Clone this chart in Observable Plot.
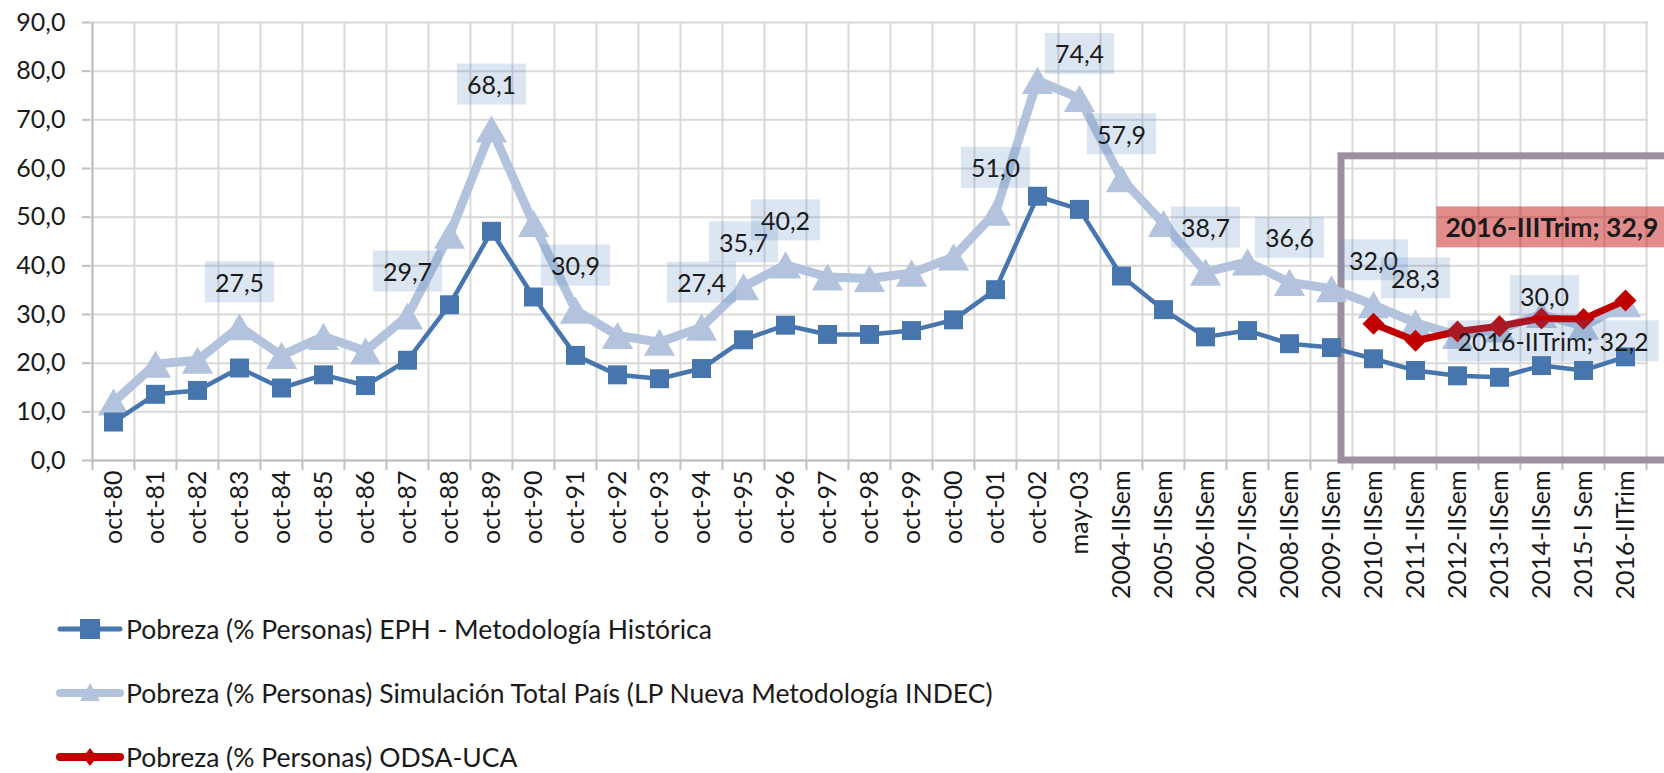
<!DOCTYPE html>
<html>
<head>
<meta charset="utf-8">
<script src="https://cdn.jsdelivr.net/npm/d3@7"></script>
<script src="https://cdn.jsdelivr.net/npm/@observablehq/plot@0.6"></script>
<style>
  body { margin: 0; background: #fff; font-family: Lato, "Open Sans", sans-serif; overflow: hidden; }
  #chart { height: 597px; }
  #legend { margin-left: 56px; }
  .row { display: flex; align-items: center; height: 64px; font-size: 26.5px; color: #1a1a1a; white-space: nowrap; }
  .row svg { margin-right: 2px; flex: none; }
</style>
</head>
<body>
<div id="chart"></div>
<div id="legend"></div>
<script>
// ---------- data ----------
const categories = ["oct-80","oct-81","oct-82","oct-83","oct-84","oct-85","oct-86","oct-87","oct-88","oct-89",
  "oct-90","oct-91","oct-92","oct-93","oct-94","oct-95","oct-96","oct-97","oct-98","oct-99",
  "oct-00","oct-01","oct-02","may-03","2004-IISem","2005-IISem","2006-IISem","2007-IISem","2008-IISem","2009-IISem",
  "2010-IISem","2011-IISem","2012-IISem","2013-IISem","2014-IISem","2015-I Sem","2016-IITrim"];

const ephValues = [7.9, 13.6, 14.4, 19.0, 14.9, 17.6, 15.4, 20.6, 32.0, 47.1,
  33.6, 21.6, 17.6, 16.8, 18.9, 24.8, 27.8, 25.9, 25.9, 26.7,
  28.9, 35.1, 54.3, 51.6, 37.9, 31.0, 25.4, 26.7, 24.0, 23.2,
  20.9, 18.5, 17.4, 17.1, 19.5, 18.5, 21.3];

const simValues = [12.0, 19.8, 20.6, 27.5, 21.6, 25.5, 22.5, 29.7, 46.3, 68.1,
  48.7, 30.9, 25.7, 24.3, 27.4, 35.7, 40.2, 37.7, 37.4, 38.5,
  41.8, 51.0, 78.1, 74.4, 57.9, 48.7, 38.7, 40.8, 36.6, 35.3,
  32.0, 28.3, 25.7, 27.0, 30.0, 27.6, 32.2];

const odsaCategories = ["2010-IISem","2011-IISem","2012-IISem","2013-IISem","2014-IISem","2015-I Sem","2016-IITrim"];
const odsaValues = [28.1, 24.6, 26.5, 27.6, 29.2, 29.1, 32.9];
const odsaLastPeriod = "2016-IIITrim";

// which simulated points carry a data label
const simLabeled = ["oct-83","oct-87","oct-89","oct-91","oct-94","oct-95","oct-96","oct-01","may-03",
  "2004-IISem","2006-IISem","2008-IISem","2010-IISem","2011-IISem"];
const simLabeledLow = ["2014-IISem"];
const simLabeledNamed = ["2016-IITrim"];

const yTicks = [0, 10, 20, 30, 40, 50, 60, 70, 80, 90];

const seriesNames = [
  "Pobreza (% Personas) EPH - Metodología Histórica",
  "Pobreza (% Personas) Simulación Total País (LP Nueva Metodología INDEC)",
  "Pobreza (% Personas) ODSA-UCA"
];

const highlight = [{from: "2010-IISem", to: "2016-IITrim", bottom: 0, top: 62.5}];

// ---------- styles ----------
const C_EPH = "#4775ae", C_SIM = "#b3c3de", C_ODSA = "#c00000";
const GRID = "#d9d9d9", AXIS = "#bfbfbf", TEXT = "#1a1a1a";

const fmt = v => d3.format(".1f")(v).replace(".", ",");

const eph = categories.map((c, i) => ({cat: c, value: ephValues[i]}));
const sim = categories.map((c, i) => ({cat: c, value: simValues[i], label: fmt(simValues[i])}));
const odsa = odsaCategories.map((c, i) => ({cat: c, value: odsaValues[i]}));
const simLab = sim.filter(d => simLabeled.includes(d.cat));
const simLabLow = sim.filter(d => simLabeledLow.includes(d.cat));
const simLabNamed = sim.filter(d => simLabeledNamed.includes(d.cat)).map(d => ({...d, label: d.cat + "; " + fmt(d.value)}));
const odsaLab = odsa.slice(-1).map(d => ({...d, label: odsaLastPeriod + "; " + fmt(d.value)}));

const W = 1664, ML = 90, MR = 16;
const step = (W - ML - MR) / categories.length;
const last = categories[categories.length - 1];

const chart = Plot.plot({
  width: W, height: 597,
  marginLeft: ML, marginRight: MR, marginTop: 22, marginBottom: 137,
  style: {fontFamily: "Lato, 'Open Sans', sans-serif", fontSize: "25px", color: TEXT, background: "white", overflow: "visible"},
  x: {type: "point", domain: categories, padding: 0.5, label: null},
  y: {domain: [0, 90], label: null},
  marks: [
    Plot.gridY(yTicks, {stroke: GRID, strokeOpacity: 1, strokeWidth: 2}),
    Plot.ruleX(categories, {dx: -step / 2, stroke: GRID, strokeWidth: 2}),
    Plot.ruleX([last], {dx: step / 2, stroke: GRID, strokeWidth: 2}),
    Plot.ruleY([0], {stroke: AXIS, strokeWidth: 2}),
    Plot.ruleX([categories[0]], {dx: -step / 2, stroke: AXIS, strokeWidth: 2}),
    Plot.axisY(yTicks, {tickSize: 8, tickPadding: 17, tickFormat: fmt, stroke: AXIS, strokeWidth: 2, fontSize: 25, fill: TEXT}),
    Plot.axisX({tickSize: 0, tickPadding: 10, tickRotate: -90, fontSize: 25, fill: TEXT}),
    Plot.axisX({tickSize: 10, tickFormat: () => "", dx: -step / 2, stroke: AXIS, strokeWidth: 2}),
    Plot.axisX([last], {tickSize: 10, tickFormat: () => "", dx: step / 2, stroke: AXIS, strokeWidth: 2}),
    // highlight frame
    Plot.rect(highlight, {x1: "from", x2: "to", y1: "bottom", y2: "top", fill: "none",
      stroke: "#9e8fa0", strokeWidth: 7, insetLeft: -32, insetRight: -80}),
    // simulated series
    Plot.line(sim, {x: "cat", y: "value", stroke: C_SIM, strokeWidth: 9}),
    Plot.dot(sim, {x: "cat", y: "value", symbol: "triangle", r: 11.6, fill: C_SIM, dy: 4.5}),
    // EPH series
    Plot.line(eph, {x: "cat", y: "value", stroke: C_EPH, strokeWidth: 4.5}),
    Plot.dot(eph, {x: "cat", y: "value", symbol: "square", r: 10.7, fill: C_EPH}),
    // ODSA series
    Plot.line(odsa, {x: "cat", y: "value", stroke: C_ODSA, strokeWidth: 7}),
    Plot.dot(odsa, {x: "cat", y: "value", symbol: "diamond2", r: 9.9, fill: C_ODSA}),
    // data labels
    Plot.text(simLab, {x: "cat", y: "value", text: "label", dy: -43, fontSize: 25, fill: TEXT}),
    Plot.text(simLabLow, {x: "cat", y: "value", text: "label", dy: -17, dx: 3, fontSize: 25, fill: TEXT}),
    Plot.text(simLabNamed, {x: "cat", y: "value", text: "label", textAnchor: "start", dx: -168, dy: 39, fontSize: 25, fill: TEXT}),
    Plot.text(odsaLab, {x: "cat", y: "value", text: "label", textAnchor: "start", dx: -180, dy: -72, fontSize: 26.5, fontWeight: "bold", fill: TEXT})
  ]
});

document.getElementById("chart").append(chart);

// label background boxes (Excel-style data label fills)
const groups = chart.querySelectorAll('g[aria-label="text"]');
groups.forEach((g, gi) => {
  const red = gi === groups.length - 1;
  g.querySelectorAll("text").forEach(t => {
    const b = t.getBBox();
    const r = document.createElementNS("http://www.w3.org/2000/svg", "rect");
    const padL = red ? 9 : 10, padR = red ? 30 : 10, h = 41;
    r.setAttribute("x", b.x - padL);
    r.setAttribute("y", b.y + b.height / 2 - h / 2);
    r.setAttribute("width", b.width + padL + padR);
    r.setAttribute("height", h);
    const tr = t.getAttribute("transform");
    if (tr) r.setAttribute("transform", tr);
    r.setAttribute("fill", red ? C_ODSA : "#4f81bd");
    r.setAttribute("fill-opacity", red ? 0.45 : 0.2);
    r.setAttribute("stroke", "none");
    g.insertBefore(r, t);
  });
});

// legend
const swatches = [
  `<line x1="4" y1="15" x2="64" y2="15" stroke="${C_EPH}" stroke-width="5" stroke-linecap="round"/><rect x="24" y="5" width="20" height="20" fill="${C_EPH}"/>`,
  `<line x1="4" y1="15" x2="64" y2="15" stroke="${C_SIM}" stroke-width="8" stroke-linecap="round"/><path d="M34,5 L44,23 L24,23 Z" fill="${C_SIM}"/>`,
  `<line x1="4" y1="15" x2="64" y2="15" stroke="${C_ODSA}" stroke-width="8" stroke-linecap="round"/><path d="M34,6 L41,15 L34,24 L27,15 Z" fill="${C_ODSA}"/>`
];
const legend = document.getElementById("legend");
seriesNames.forEach((name, i) => {
  const row = document.createElement("div");
  row.className = "row";
  row.innerHTML = `<svg width="68" height="30">${swatches[i]}</svg><span>${name}</span>`;
  legend.append(row);
});
</script>
</body>
</html>
